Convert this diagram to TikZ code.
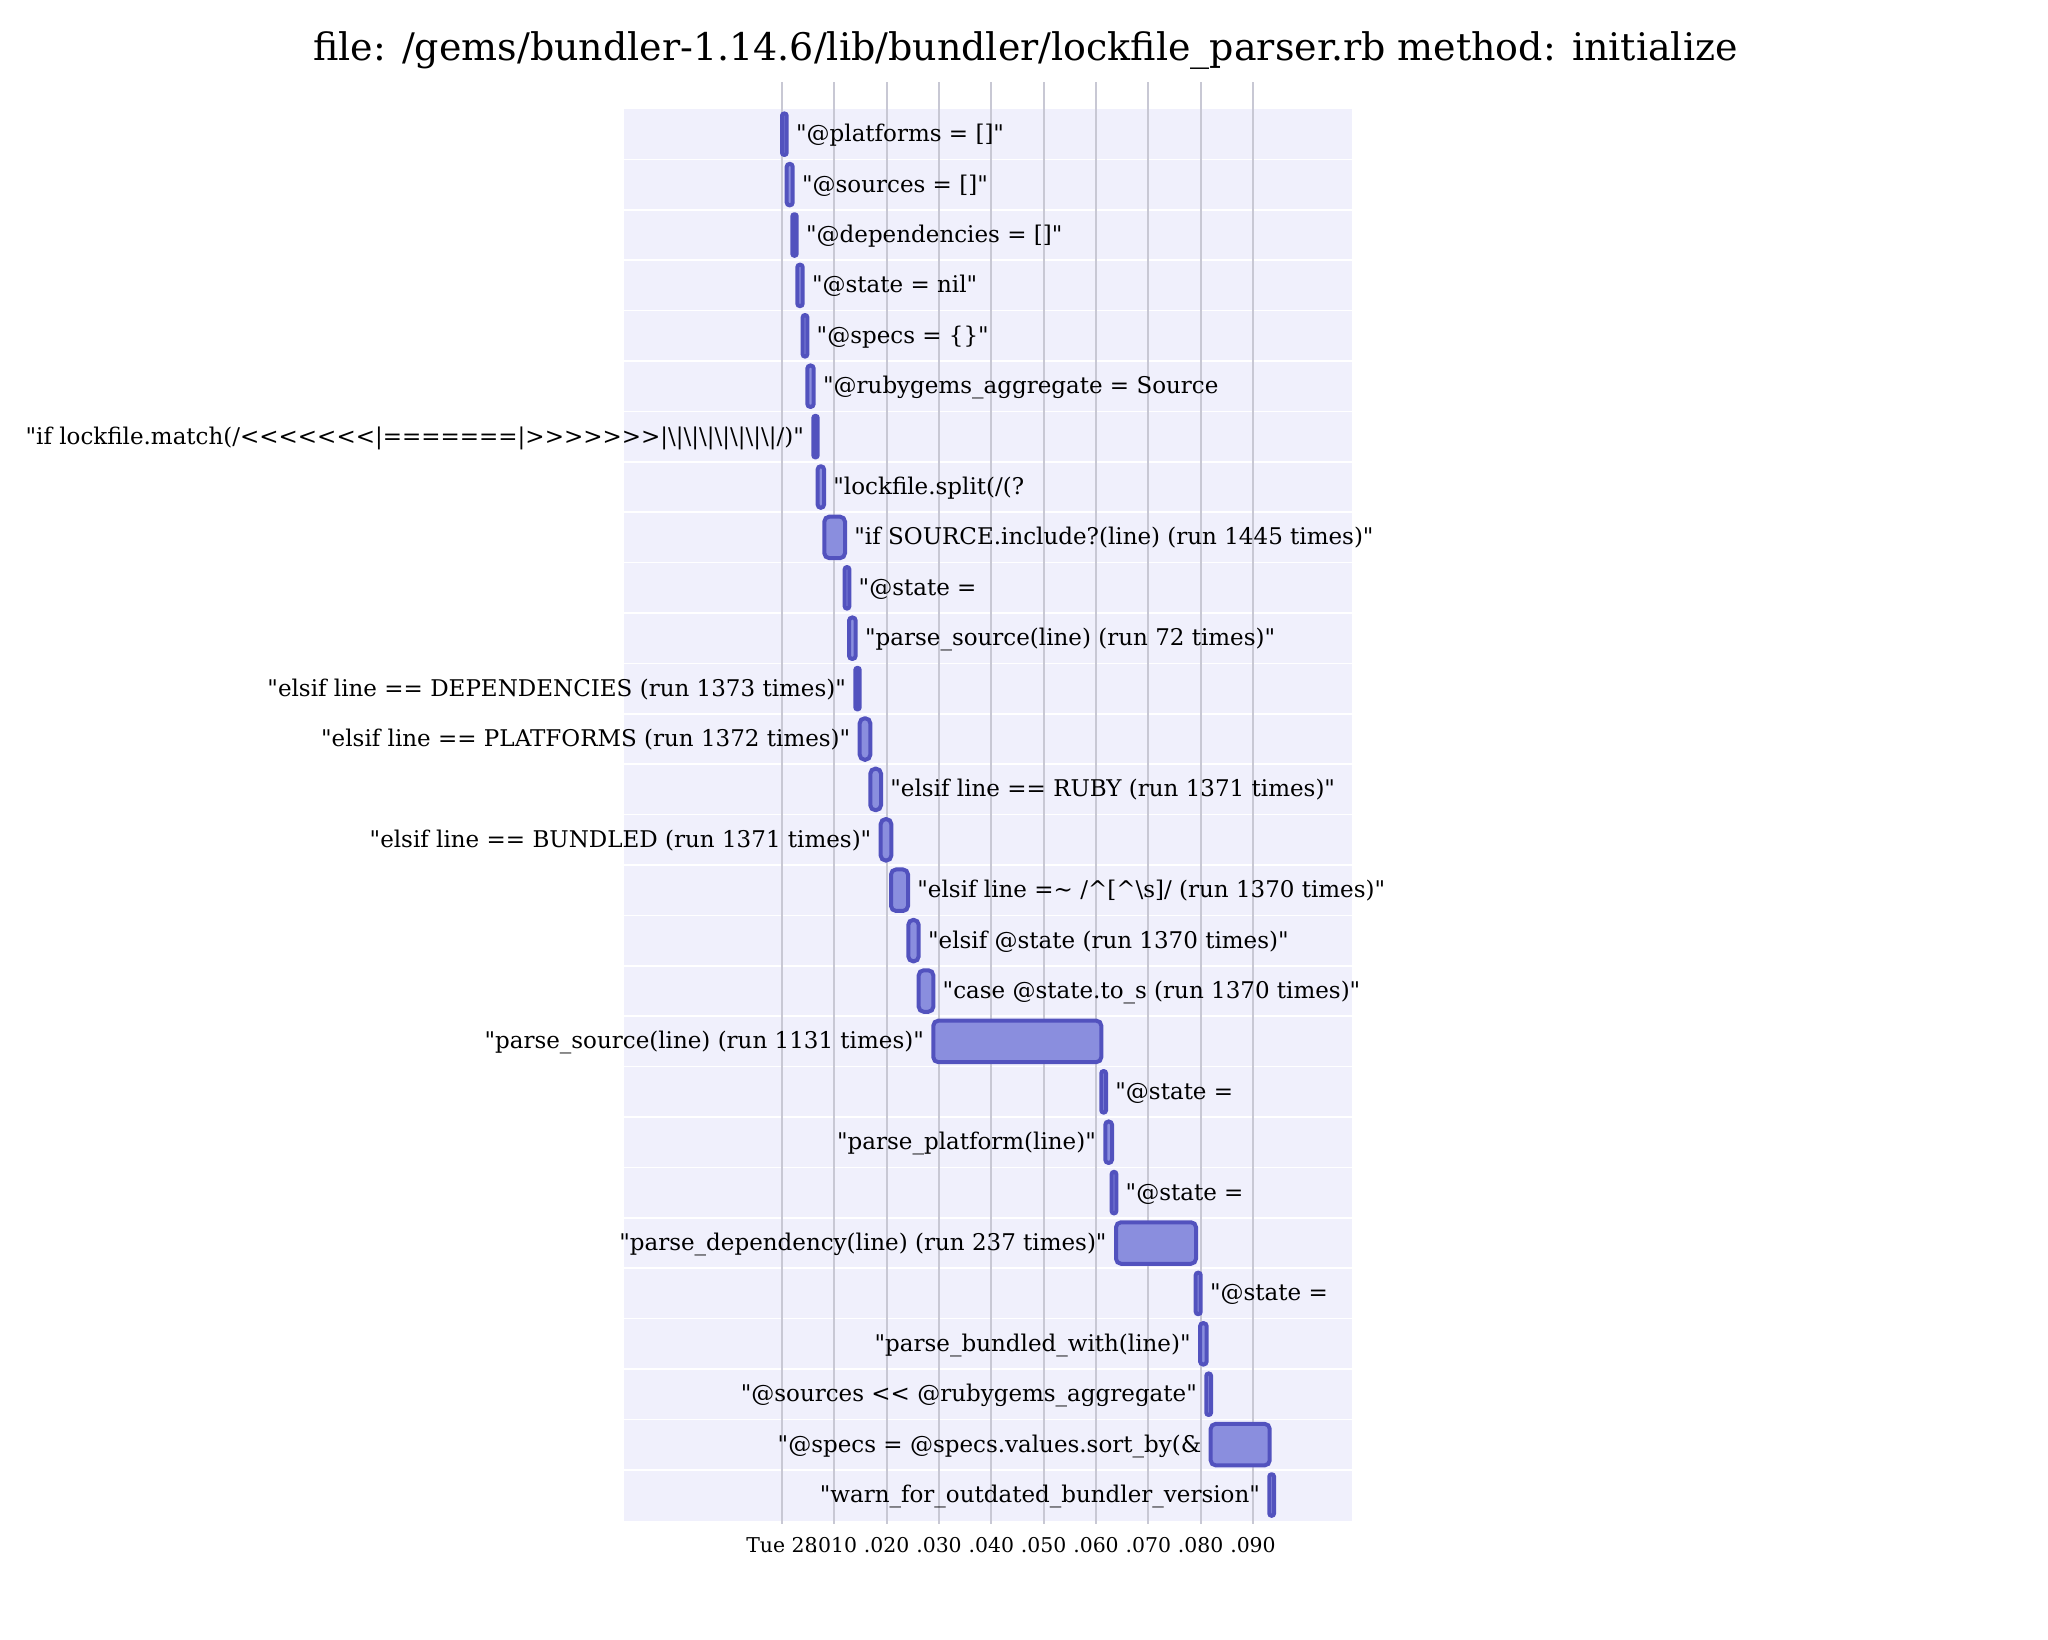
\documentclass[tikz,border=0pt]{standalone}
\usepackage{fontspec}
\setmainfont{DejaVu Serif}[Ligatures=TeXOff]
\usetikzlibrary{positioning}
\definecolor{plotbg}{RGB}{240,240,252}
\definecolor{barline}{RGB}{82,82,190}
\definecolor{barfill}{RGB}{138,142,222}
\definecolor{gridgray}{RGB}{200,200,212}
\newcommand\bs{\textbackslash}
% one timeline row: row, start, end, label side, label
\newcommand\runrow[5]{%
  \pgfmathsetmacro\rowy{134.2+50.4*#1}%
  \pgfmathsetmacro\barw{(#3-#2-4)*0.5}%
  \pgfmathsetmacro\barr{min(2.5,\barw/2-0.05)}%
  \node[run bar, minimum width=\barw pt, rounded corners=\barr pt] (bar#1) at ({(#2+#3)/2},\rowy) {};
  \node[bar label, #4=4.7pt of bar#1] (label#1) {#5};
}
\begin{document}
\begin{tikzpicture}[x=0.5pt, y=-0.5pt]
	\tikzset{run bar/.style={draw=barline, fill=barfill, line width=2pt, inner sep=0pt, outer sep=0pt, minimum height=20.75pt},
		bar label/.style={inner sep=0pt, outer sep=0pt, font=\fontsize{11.5}{13}\selectfont, text height=9pt, text depth=1.5pt},
		tick label/.style={inner sep=0pt, font=\fontsize{10.2}{12}\selectfont, anchor=base},
		grid line/.style={draw=gridgray, line width=1pt}}
	\path[use as bounding box] (0,0) rectangle (2048,1639);
	\node[anchor=base, inner sep=0pt, font=\fontsize{19}{23}\selectfont] (title) at (1025.5,60) {file: /gems/bundler-1.14.6/lib/bundler/lockfile\_parser.rb method: initialize};
	% plot area and row stripes
	\fill[plotbg] (624,109) rectangle (1352,1521);
	\foreach \k in {1,...,27}
		\draw[white, line width=0.75pt] (624,{109+50.4*\k}) -- (1352,{109+50.4*\k});
	\foreach \i in {0,...,9}
		\draw[grid line] ({782+52.33*\i},82) -- ({782+52.33*\i},1524);
	\foreach \i/\t in {0/Tue 28, 1/.010, 2/.020, 3/.030, 4/.040, 5/.050, 6/.060, 7/.070, 8/.080, 9/.090}
		\node[tick label] (tick\i) at ({782+52.33*\i},1552) {\t};
	% the timed lines
	\runrow{0}{780}{788.7}{right}{"@platforms = []"}
	\runrow{1}{784.7}{794.7}{right}{"@sources = []"}
	\runrow{2}{790.3}{798.7}{right}{"@dependencies = []"}
	\runrow{3}{795.3}{804.7}{right}{"@state = nil"}
	\runrow{4}{800.7}{809.3}{right}{"@specs = \{\}"}
	\runrow{5}{805.3}{815.7}{right}{"@rubygems\_aggregate = Source}
	\runrow{6}{811.3}{819.7}{left}{"if lockfile.match(/<<<<<<<|=======|>>>>>>>|\bs|\bs|\bs|\bs|\bs|\bs|\bs|/)"}
	\runrow{7}{815.7}{826}{right}{"lockfile.split(/(?}
	\runrow{8}{822.3}{847}{right}{"if SOURCE.include?(line) (run 1445 times)"}
	\runrow{9}{842.7}{851.3}{right}{"@state =}
	\runrow{10}{847}{857.7}{right}{"parse\_source(line) (run 72 times)"}
	\runrow{11}{853.3}{861.7}{left}{"elsif line == DEPENDENCIES (run 1373 times)"}
	\runrow{12}{857.7}{872.3}{left}{"elsif line == PLATFORMS (run 1372 times)"}
	\runrow{13}{868.3}{883}{right}{"elsif line == RUBY (run 1371 times)"}
	\runrow{14}{878.7}{893.3}{left}{"elsif line == BUNDLED (run 1371 times)"}
	\runrow{15}{889}{910}{right}{"elsif line =\textasciitilde{} /\textasciicircum[\textasciicircum\bs s]/ (run 1370 times)"}
	\runrow{16}{906.3}{920.7}{right}{"elsif @state (run 1370 times)"}
	\runrow{17}{916.7}{935.3}{right}{"case @state.to\_s (run 1370 times)"}
	\runrow{18}{931.3}{1103.3}{left}{"parse\_source(line) (run 1131 times)"}
	\runrow{19}{1099.3}{1108}{right}{"@state =}
	\runrow{20}{1103.3}{1114}{left}{"parse\_platform(line)"}
	\runrow{21}{1109.7}{1118.3}{right}{"@state =}
	\runrow{22}{1114}{1198}{left}{"parse\_dependency(line) (run 237 times)"}
	\runrow{23}{1193.7}{1202.7}{right}{"@state =}
	\runrow{24}{1198}{1208.7}{left}{"parse\_bundled\_with(line)"}
	\runrow{25}{1204.3}{1213}{left}{"@sources << @rubygems\_aggregate"}
	\runrow{26}{1208.7}{1271.7}{left}{"@specs = @specs.values.sort\_by(\&}
	\runrow{27}{1267.3}{1276}{left}{"warn\_for\_outdated\_bundler\_version"}
\end{tikzpicture}
\end{document}
